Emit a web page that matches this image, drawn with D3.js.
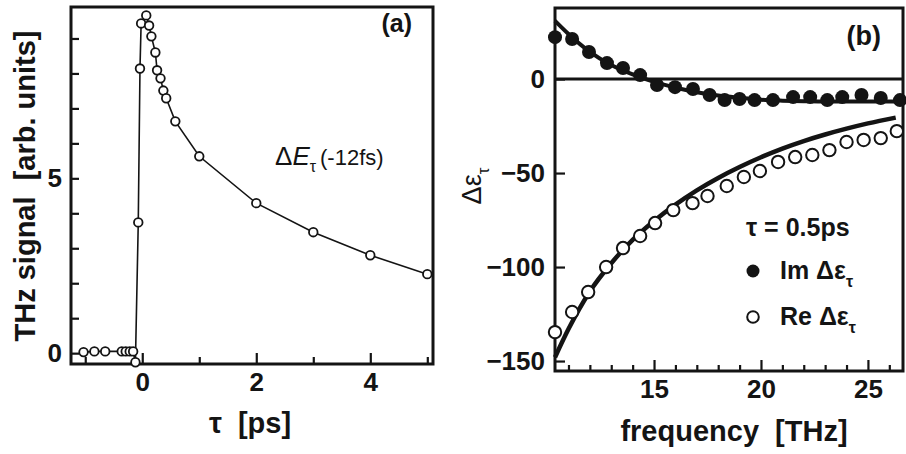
<!DOCTYPE html>
<html>
<head>
<meta charset="utf-8">
<script src="https://cdn.jsdelivr.net/npm/d3@7"></script>
<style>
  body { margin: 0; background: #fff; }
  svg text { font-family: "Liberation Sans", Arial, sans-serif; font-weight: bold; fill: #141414; white-space: pre; }
</style>
</head>
<body>
<div id="chart"></div>
<script>
// panel (a): THz signal vs delay
var tauA = [-1.03, -0.84, -0.65, -0.36, -0.29, -0.22, -0.16, -0.12, -0.07, -0.04, -0.02, 0.07, 0.12, 0.16, 0.23, 0.26, 0.32, 0.37, 0.42, 0.58, 1, 2, 3, 4, 5];
var sigA = [0.03, 0.05, 0.05, 0.05, 0.05, 0.05, 0.05, -0.26, 3.74, 8.14, 9.43, 9.66, 9.37, 9.06, 8.6, 8.09, 7.86, 7.51, 7.29, 6.63, 5.63, 4.29, 3.46, 2.8, 2.26];
var tauMajor = [0, 2, 4];
var tauMinor = [-1, 1, 3, 5];
var sigTicks = [0, 1, 2, 3, 4, 5, 6, 7, 8, 9];
var sigLabels = [0, 5];

// panel (b): dielectric function change
var freqIm = [10.37, 11.17, 11.96, 12.8, 13.55, 14.35, 15.14, 15.98, 16.82, 17.6, 18.3, 19.0, 19.7, 20.56, 21.5, 22.3, 23.1, 23.8, 24.7, 25.6, 26.5];
var imEps = [22.3, 21.3, 14.4, 8.5, 5.9, 2.1, -3.2, -4.3, -5.3, -8.5, -11.2, -10.6, -11.2, -11.2, -9.6, -9.6, -11.2, -9.6, -8.5, -10.1, -11.2];
var freqRe = [10.37, 11.17, 11.92, 12.76, 13.55, 14.35, 15.05, 15.9, 16.8, 17.5, 18.4, 19.2, 19.95, 20.8, 21.6, 22.4, 23.2, 24.0, 24.8, 25.6, 26.35];
var reEps = [-134.6, -123.9, -113.3, -100, -89.9, -83.5, -76.6, -69.7, -66, -62.2, -56.9, -52.1, -48.9, -44.1, -41.5, -40.4, -37.8, -33.5, -32.4, -31.4, -27.7];
var fitFreqIm = [10.37, 11, 12, 13, 14, 15, 16, 17, 18, 19, 20, 21, 22, 23, 24, 25, 26.6];
var fitIm = [31, 24, 14.5, 7.5, 2.5, -1.5, -4.5, -7, -8.8, -10, -11, -11.5, -11.8, -12, -12, -12, -12];
var fitFreqRe = [10.37, 11, 12, 13, 14, 15, 16, 17, 18, 19, 20, 21, 22, 23, 24, 25, 26.3];
var fitRe = [-148, -133, -113, -98, -85.5, -75.5, -66.8, -59.2, -52.6, -46.8, -41.6, -37, -33, -29.5, -26.4, -23.6, -20.5];
var freqMajor = [15, 20, 25];
var freqMinor = [11, 12, 13, 14, 16, 17, 18, 19, 21, 22, 23, 24, 26];
var epsTicks = [0, -50, -100, -150];

var width = 906, height = 454;
var ink = '#141414';

var svg = d3.select('#chart').append('svg')
  .attr('width', width).attr('height', height);

// ---------- panel (a) ----------
var xA = d3.scaleLinear().domain([-1.25, 5.1]).range([71, 433]);
var yA = d3.scaleLinear().domain([-0.31, 9.9]).range([364, 7]);

var gA = svg.append('g');

function axisStyle(g) {
  g.select('.domain').remove();
  g.selectAll('.tick line').attr('stroke', ink).attr('stroke-width', 2.2);
  g.selectAll('.tick text').attr('font-size', 26).attr('fill', ink)
    .style('font-family', '"Liberation Sans", Arial, sans-serif').style('font-weight', 'bold');
}

gA.append('g').attr('transform', 'translate(0,' + yA.range()[0] + ')')
  .call(d3.axisBottom(xA).tickValues(tauMajor).tickSize(-11).tickPadding(9).tickFormat(d3.format('d')))
  .call(axisStyle);
gA.append('g').attr('transform', 'translate(0,' + yA.range()[0] + ')')
  .call(d3.axisBottom(xA).tickValues(tauMinor).tickSize(-7).tickFormat(''))
  .call(axisStyle);
gA.append('g').attr('transform', 'translate(' + xA.range()[0] + ',0)')
  .call(d3.axisLeft(yA).tickValues(sigTicks).tickSize(-8).tickPadding(9)
    .tickFormat(d => sigLabels.indexOf(d) >= 0 ? d : ''))
  .call(axisStyle);

gA.append('rect')
  .attr('x', xA.range()[0]).attr('y', yA.range()[1])
  .attr('width', xA.range()[1] - xA.range()[0]).attr('height', yA.range()[0] - yA.range()[1])
  .attr('fill', 'none').attr('stroke', ink).attr('stroke-width', 3);

var ptsA = tauA.map((t, i) => [t, sigA[i]]);
gA.append('path')
  .attr('d', d3.line().x(d => xA(d[0])).y(d => yA(d[1]))(ptsA))
  .attr('fill', 'none').attr('stroke', ink).attr('stroke-width', 1.6);
gA.selectAll('.ptA').data(ptsA).enter().append('circle')
  .attr('cx', d => xA(d[0])).attr('cy', d => yA(d[1])).attr('r', 4.3)
  .attr('fill', '#fff').attr('stroke', ink).attr('stroke-width', 1.8);

gA.append('text').attr('x', 412).attr('y', 32).attr('text-anchor', 'end').attr('font-size', 25).text('(a)');

var lblE = gA.append('text').attr('x', 275).attr('y', 165).attr('font-size', 26);
lblE.append('tspan').style('font-weight', 'normal').text('Δ');
lblE.append('tspan').style('font-style', 'italic').style('font-weight', 'normal').text('E');
lblE.append('tspan').attr('dy', 7).attr('font-size', 16).style('font-weight', 'normal').text('τ');
lblE.append('tspan').attr('dy', -7).attr('dx', 4).attr('font-size', 22).style('font-weight', 'normal').text('(-12fs)');

gA.append('text').attr('x', 250).attr('y', 433).attr('text-anchor', 'middle').attr('font-size', 29).text('τ  [ps]');
gA.append('text').attr('transform', 'translate(35,186) rotate(-90)')
  .attr('text-anchor', 'middle').attr('font-size', 29).text('THz signal  [arb. units]');

// ---------- panel (b) ----------
var xB = d3.scaleLinear().domain([10.37, 26.64]).range([555, 903]);
var yB = d3.scaleLinear().domain([-155.3, 37.8]).range([371, 8]);

var gB = svg.append('g');

gB.append('g').attr('transform', 'translate(0,' + yB.range()[0] + ')')
  .call(d3.axisBottom(xB).tickValues(freqMajor).tickSize(-11).tickPadding(9).tickFormat(d3.format('d')))
  .call(axisStyle);
gB.append('g').attr('transform', 'translate(0,' + yB.range()[0] + ')')
  .call(d3.axisBottom(xB).tickValues(freqMinor).tickSize(-6).tickFormat(''))
  .call(axisStyle);
gB.append('g').attr('transform', 'translate(' + xB.range()[0] + ',0)')
  .call(d3.axisLeft(yB).tickValues(epsTicks).tickSize(-10).tickPadding(10).tickFormat(d3.format('d')))
  .call(axisStyle);

gB.append('rect')
  .attr('x', xB.range()[0]).attr('y', yB.range()[1])
  .attr('width', xB.range()[1] - xB.range()[0]).attr('height', yB.range()[0] - yB.range()[1])
  .attr('fill', 'none').attr('stroke', ink).attr('stroke-width', 3);

gB.append('line')
  .attr('x1', xB.range()[0]).attr('x2', xB.range()[1])
  .attr('y1', yB(0)).attr('y2', yB(0))
  .attr('stroke', ink).attr('stroke-width', 3);

var fitLine = d3.line().x(d => xB(d[0])).y(d => yB(d[1])).curve(d3.curveMonotoneX);
gB.append('path')
  .attr('d', fitLine(fitFreqRe.map((f, i) => [f, fitRe[i]])))
  .attr('fill', 'none').attr('stroke', ink).attr('stroke-width', 4.5);
gB.append('path')
  .attr('d', fitLine(fitFreqIm.map((f, i) => [f, fitIm[i]])))
  .attr('fill', 'none').attr('stroke', ink).attr('stroke-width', 4);

gB.selectAll('.ptIm').data(freqIm.map((f, i) => [f, imEps[i]])).enter().append('circle')
  .attr('cx', d => xB(d[0])).attr('cy', d => yB(d[1])).attr('r', 7)
  .attr('fill', ink);
gB.selectAll('.ptRe').data(freqRe.map((f, i) => [f, reEps[i]])).enter().append('circle')
  .attr('cx', d => xB(d[0])).attr('cy', d => yB(d[1])).attr('r', 6.2)
  .attr('fill', '#fff').attr('stroke', ink).attr('stroke-width', 2);

gB.append('text').attr('x', 881).attr('y', 45).attr('text-anchor', 'end').attr('font-size', 27).text('(b)');

// legend
gB.append('text').attr('x', 746).attr('y', 236).attr('font-size', 25).text('τ = 0.5ps');
gB.append('circle').attr('cx', 753).attr('cy', 271).attr('r', 6.5).attr('fill', ink);
gB.append('circle').attr('cx', 753).attr('cy', 317).attr('r', 5.8)
  .attr('fill', '#fff').attr('stroke', ink).attr('stroke-width', 2);
var lgIm = gB.append('text').attr('x', 780).attr('y', 279).attr('font-size', 25);
lgIm.append('tspan').text('Im Δε');
lgIm.append('tspan').attr('dy', 8).attr('font-size', 16).text('τ');
var lgRe = gB.append('text').attr('x', 780).attr('y', 325).attr('font-size', 25);
lgRe.append('tspan').text('Re Δε');
lgRe.append('tspan').attr('dy', 8).attr('font-size', 16).text('τ');

var lblEps = gB.append('text').attr('transform', 'translate(481,186) rotate(-90)')
  .attr('text-anchor', 'middle').attr('font-size', 27).style('font-weight', 'normal');
lblEps.append('tspan').text('Δε');
lblEps.append('tspan').attr('dy', 8).attr('font-size', 17).text('τ');

gB.append('text').attr('x', 734).attr('y', 441).attr('text-anchor', 'middle').attr('font-size', 29).text('frequency  [THz]');
</script>
</body>
</html>
